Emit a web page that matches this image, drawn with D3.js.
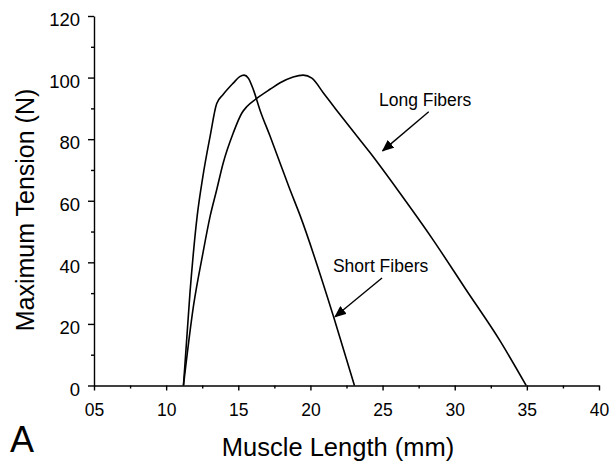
<!DOCTYPE html>
<html>
<head>
<meta charset="utf-8">
<script src="https://cdn.jsdelivr.net/npm/d3@7"></script>
<style>
  body { margin: 0; background: #fff; }
  svg { display: block; font-family: "Liberation Sans", Arial, Helvetica, sans-serif; }
  .axis path, .axis line { stroke: #000; stroke-width: 1.4; }
  .axis text { fill: #000; }
  .curve { fill: none; stroke: #000; stroke-width: 1.6; stroke-linejoin: round; }
</style>
</head>
<body>
<svg id="chart"></svg>
<script>
// Short fibers (length in mm, tension in N)
const shortX = [11.2, 11.65, 12.15, 12.55, 13.05, 13.5, 13.95, 14.65, 15.1, 15.4, 15.7, 16.05, 16.5, 17.2, 17.9, 18.5, 19.3, 21.6, 23.05];
const shortY = [0, 30, 55, 68, 81, 91.5, 94.5, 98.2, 100.3, 100.8, 99.8, 96, 89.5, 81, 72.2, 64.6, 55, 22.4, 0];

// Long fibers
const longX = [11.2, 11.9, 12.55, 13.05, 13.5, 13.95, 14.65, 15.25, 15.6, 16.3, 17.2, 17.9, 18.8, 19.5, 20.1, 20.9, 21.8, 23.0, 24.1, 26.2, 28.5, 30.8, 33.1, 34.95];
const longY = [0, 26, 43, 55, 63.5, 72.2, 82, 88.5, 90.6, 93.3, 96.2, 98.3, 100.2, 100.8, 99.8, 95, 89.5, 82.3, 75.8, 62.5, 47.3, 31, 14.8, 0];

// Axis ticks
const xTicks = [5, 10, 15, 20, 25, 30, 35, 40];
const xMinor = [7.5, 12.5, 17.5, 22.5, 27.5, 32.5, 37.5];
const yTicks = [0, 20, 40, 60, 80, 100, 120];
const yMinor = [10, 30, 50, 70, 90, 110];

// Annotations (label anchor and arrow in data units)
const labels = [
  {text: 'Long Fibers', x: 24.75, y: 90.9, from: [28.2, 88.9], to: [25.0, 76.2]},
  {text: 'Short Fibers', x: 21.56, y: 37, from: [24.96, 34.9], to: [21.7, 22.3]}
];

const width = 609, height = 462;
const margin = {top: 16, right: 10, bottom: 76.5, left: 94};
const w = width - margin.left - margin.right;
const h = height - margin.top - margin.bottom;

const svg = d3.select('#chart')
    .attr('width', width)
    .attr('height', height);

const chart = svg.append('g')
    .attr('transform', `translate(${margin.left},${margin.top})`);

const x = d3.scaleLinear().domain([5, 40]).range([0, w]);
const y = d3.scaleLinear().domain([0, 120]).range([h, 0]);

// minor ticks first, then the major ones on top
chart.append('g')
    .attr('class', 'axis')
    .attr('transform', `translate(0,${h})`)
    .call(d3.axisBottom(x).tickValues(xMinor).tickSize(3).tickFormat(''))
    .call(g => g.select('.domain').remove());

chart.append('g')
    .attr('class', 'axis')
    .call(d3.axisLeft(y).tickValues(yMinor).tickSize(3).tickFormat(''))
    .call(g => g.select('.domain').remove());

chart.append('g')
    .attr('class', 'axis x-axis')
    .attr('transform', `translate(0,${h})`)
    .call(d3.axisBottom(x).tickValues(xTicks).tickSize(5).tickSizeOuter(0).tickPadding(13.5).tickFormat(d3.format('02d')))
    .call(g => g.selectAll('text').style('font-size', '17.5px'));

chart.append('g')
    .attr('class', 'axis y-axis')
    .call(d3.axisLeft(y).tickValues(yTicks).tickSize(6).tickSizeOuter(0).tickPadding(8))
    .call(g => g.selectAll('text').style('font-size', '18.5px').attr('dy', '0.53em'));

// Curves
const line = d3.line()
    .x(d => x(d[0]))
    .y(d => y(d[1]))
    .curve(d3.curveMonotoneX);

chart.append('path')
    .attr('class', 'curve')
    .attr('d', line(shortX.map((v, i) => [v, shortY[i]])));

chart.append('path')
    .attr('class', 'curve')
    .attr('d', line(longX.map((v, i) => [v, longY[i]])));

// Arrowhead
svg.append('defs').append('marker')
    .attr('id', 'head')
    .attr('viewBox', '0 0 12 10')
    .attr('refX', 11)
    .attr('refY', 5)
    .attr('markerWidth', 12)
    .attr('markerHeight', 10)
    .attr('markerUnits', 'userSpaceOnUse')
    .attr('orient', 'auto')
  .append('path')
    .attr('d', 'M0,0 L12,5 L0,10 Z')
    .attr('fill', '#000');

labels.forEach(l => {
  chart.append('text')
      .attr('x', x(l.x))
      .attr('y', y(l.y))
      .style('font-size', '17.5px')
      .text(l.text);

  chart.append('line')
      .attr('x1', x(l.from[0]))
      .attr('y1', y(l.from[1]))
      .attr('x2', x(l.to[0]))
      .attr('y2', y(l.to[1]))
      .attr('stroke', '#000')
      .attr('stroke-width', 1.4)
      .attr('marker-end', 'url(#head)');
});

// Axis titles
svg.append('text')
    .attr('x', 338)
    .attr('y', 456)
    .attr('text-anchor', 'middle')
    .style('font-size', '25.5px')
    .text('Muscle Length (mm)');

svg.append('text')
    .attr('transform', 'translate(34,210) rotate(-90)')
    .attr('text-anchor', 'middle')
    .style('font-size', '25px')
    .text('Maximum Tension (N)');

// Panel letter
svg.append('text')
    .attr('x', 10)
    .attr('y', 452)
    .style('font-size', '36px')
    .text('A');
</script>
</body>
</html>
